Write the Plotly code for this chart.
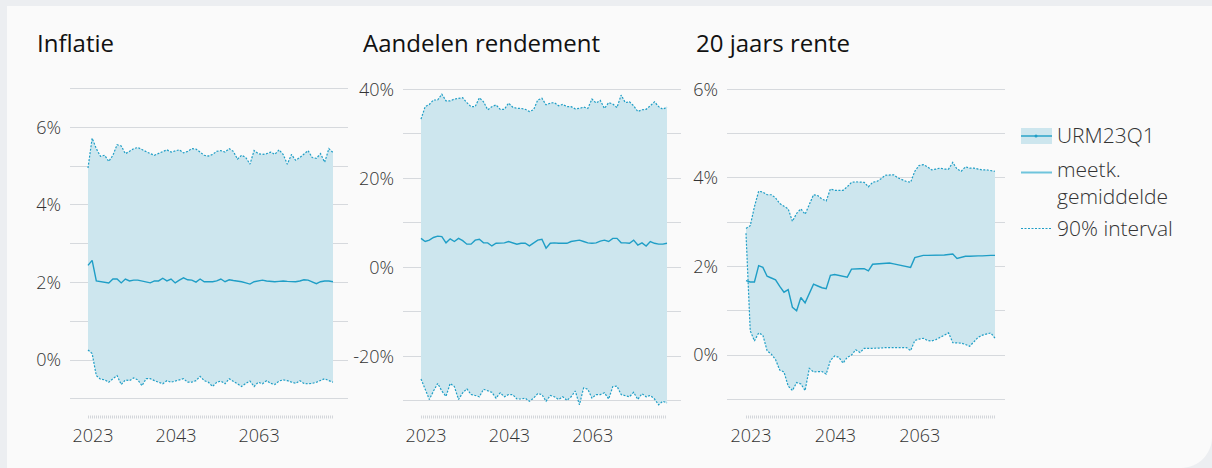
import plotly.graph_objects as go

# ---------------- data ----------------
years = list(range(2023, 2083))
x_tick_vals = [2023, 2043, 2063]
x_tick_text = ["2023", "2043", "2063"]

titles = ["Inflatie", "Aandelen rendement", "20 jaars rente"]

infl_upper = [4.95, 5.72, 5.45, 5.25, 5.28, 5.12, 5.28, 5.55, 5.52, 5.32,
              5.38, 5.45, 5.48, 5.42, 5.38, 5.32, 5.28, 5.32, 5.36, 5.42,
              5.36, 5.40, 5.42, 5.34, 5.38, 5.45, 5.44, 5.36, 5.28, 5.26,
              5.30, 5.38, 5.40, 5.36, 5.45, 5.38, 5.18, 5.28, 5.22, 5.05,
              5.40, 5.32, 5.30, 5.32, 5.36, 5.30, 5.42, 5.30, 5.05, 5.30,
              5.15, 5.22, 5.30, 5.40, 5.22, 5.20, 5.32, 5.10, 5.45, 5.35]
infl_mean = [2.44, 2.57, 2.04, 2.02, 2.01, 1.99, 2.09, 2.09, 1.99, 2.09,
             2.04, 2.06, 2.06, 2.04, 2.01, 1.99, 2.04, 2.04, 2.11, 2.04,
             2.09, 1.99, 2.06, 2.12, 2.07, 2.06, 2.01, 2.09, 2.02, 2.02,
             2.02, 2.04, 2.09, 2.02, 2.07, 2.05, 2.04, 2.02, 1.99, 1.96,
             2.02, 2.04, 2.06, 2.04, 2.03, 2.02, 2.03, 2.04, 2.03, 2.02,
             2.02, 2.04, 2.07, 2.06, 2.02, 1.97, 2.02, 2.04, 2.04, 2.02]
infl_lower = [0.26, 0.17, -0.40, -0.49, -0.51, -0.57, -0.48, -0.40, -0.63, -0.51,
              -0.53, -0.46, -0.51, -0.66, -0.48, -0.48, -0.53, -0.57, -0.61, -0.53,
              -0.57, -0.54, -0.51, -0.48, -0.57, -0.57, -0.53, -0.42, -0.53, -0.57,
              -0.68, -0.57, -0.54, -0.61, -0.48, -0.54, -0.61, -0.68, -0.60, -0.54,
              -0.68, -0.57, -0.61, -0.53, -0.60, -0.63, -0.54, -0.51, -0.53, -0.57,
              -0.60, -0.53, -0.60, -0.61, -0.60, -0.57, -0.53, -0.48, -0.53, -0.57]

aand_upper = [33.3, 36.1, 36.6, 37.6, 37.6, 38.9, 37.4, 37.4, 37.8, 38.0,
              38.1, 37.0, 36.1, 36.1, 38.1, 37.2, 35.4, 36.1, 36.5, 35.5,
              35.5, 36.9, 36.0, 35.7, 35.7, 35.5, 35.0, 35.4, 37.6, 38.0,
              36.5, 36.9, 37.0, 36.3, 36.6, 36.1, 36.1, 35.6, 35.7, 36.0,
              35.7, 37.8, 36.9, 37.5, 35.7, 37.0, 36.7, 35.9, 38.7, 37.0,
              37.2, 36.3, 35.0, 35.4, 35.5, 36.3, 37.2, 36.1, 35.5, 36.0]
aand_mean = [6.5, 5.8, 6.1, 6.7, 7.0, 6.9, 5.5, 6.4, 5.8, 6.5,
             6.0, 5.2, 5.2, 6.1, 6.3, 5.5, 5.5, 4.8, 5.4, 5.5,
             5.5, 5.8, 5.5, 5.2, 5.4, 5.4, 4.8, 5.4, 6.1, 6.3,
             4.3, 5.4, 5.5, 5.4, 5.4, 5.4, 5.8, 5.9, 6.1, 5.8,
             5.5, 5.4, 5.5, 5.9, 6.1, 5.8, 6.5, 6.5, 5.5, 5.5,
             5.4, 6.1, 5.0, 5.5, 4.8, 5.8, 5.4, 5.2, 5.2, 5.4]
aand_lower = [-25.1, -27.4, -29.7, -27.8, -26.1, -27.8, -29.0, -26.1, -26.8, -29.7,
              -28.2, -27.3, -28.6, -28.8, -29.1, -27.4, -27.8, -28.1, -29.4, -28.2,
              -29.1, -28.6, -28.6, -29.6, -29.6, -29.4, -30.1, -29.4, -28.4, -28.6,
              -30.1, -28.8, -29.1, -29.7, -29.1, -29.9, -29.1, -27.8, -30.9, -27.1,
              -27.4, -29.4, -28.6, -28.6, -28.2, -29.6, -26.8, -26.7, -28.6, -28.8,
              -29.1, -28.1, -29.7, -28.4, -29.1, -28.8, -29.6, -30.9, -30.1, -30.5]

rente_upper = [2.86, 2.92, 3.35, 3.70, 3.68, 3.62, 3.62, 3.55, 3.42, 3.35,
               3.30, 3.02, 3.20, 3.30, 3.18, 3.40, 3.62, 3.60, 3.52, 3.48,
               3.75, 3.72, 3.72, 3.72, 3.80, 3.90, 3.91, 3.91, 3.90, 3.80,
               3.90, 3.92, 3.98, 4.06, 4.06, 4.07, 4.00, 3.96, 3.92, 3.90,
               4.15, 4.28, 4.30, 4.25, 4.18, 4.20, 4.22, 4.20, 4.20, 4.35,
               4.20, 4.15, 4.25, 4.22, 4.22, 4.20, 4.18, 4.18, 4.16, 4.15]
rente_mean = [1.68, 1.65, 1.65, 2.02, 1.98, 1.78, 1.74, 1.70, 1.55, 1.42,
              1.48, 1.08, 1.00, 1.30, 1.18, 1.40, 1.60, 1.56, 1.52, 1.50,
              1.80, 1.82, 1.80, 1.78, 1.76, 1.94, 1.95, 1.95, 1.95, 1.90,
              2.05, 2.06, 2.07, 2.08, 2.08, 2.06, 2.04, 2.02, 2.00, 1.98,
              2.20, 2.23, 2.25, 2.25, 2.25, 2.25, 2.25, 2.26, 2.27, 2.28,
              2.18, 2.21, 2.23, 2.23, 2.24, 2.24, 2.24, 2.25, 2.25, 2.25]
rente_lower = [2.75, 0.55, 0.32, 0.50, 0.45, 0.10, 0.02, -0.10, -0.34, -0.38,
               -0.70, -0.80, -0.62, -0.65, -0.80, -0.30, -0.38, -0.37, -0.37, -0.43,
               -0.12, -0.02, -0.05, -0.18, -0.05, 0.00, 0.12, 0.06, 0.15, 0.15,
               0.15, 0.16, 0.16, 0.17, 0.17, 0.17, 0.17, 0.17, 0.17, 0.10,
               0.33, 0.36, 0.38, 0.33, 0.32, 0.35, 0.40, 0.45, 0.50, 0.28,
               0.28, 0.27, 0.24, 0.20, 0.30, 0.40, 0.45, 0.48, 0.50, 0.38]

y_grid_vals = [list(range(-1, 8)), list(range(-30, 50, 10)), list(range(-1, 7))]
y_label_vals = [[0, 2, 4, 6], [-20, 0, 20, 40], [0, 2, 4, 6]]

legend_labels = ["URM23Q1", "meetk.<br>gemiddelde", "90% interval"]

# ---------------- style / layout ----------------
W, H = 1212, 468
FONT = "Open Sans"
LINE = "#1f9ec6"
FILL = "#cde6ee"
GRID = "#d6d9dd"
TXT = "#333333"


def X(p):
    return p / W


def Y(p):
    return 1 - p / H


# pixel geometry of each panel: grid x span, data x span, top px of top grid value, px per unit
panels = [
    dict(gx=(70, 348), dx=(88, 333), top_px=88.5, ppu=38.8, top_val=7, tx=35),
    dict(gx=(403, 681), dx=(421, 667), top_px=89.3, ppu=4.45, top_val=40, tx=361),
    dict(gx=(727, 1005), dx=(746, 995), top_px=89.3, ppu=44.3, top_val=6, tx=694),
]
BOTTOM_PX = 420
series = [(infl_lower, infl_upper, infl_mean),
          (aand_lower, aand_upper, aand_mean),
          (rente_lower, rente_upper, rente_mean)]

fig = go.Figure()
layout = {}
shapes = []
annotations = []

for i, (p, (lo, up, mn)) in enumerate(zip(panels, series)):
    n = i + 1
    xa = "x" if n == 1 else f"x{n}"
    ya = "y" if n == 1 else f"y{n}"
    fig.add_trace(go.Scatter(x=years, y=lo, mode="lines", xaxis=xa, yaxis=ya,
                             line=dict(color=LINE, width=1.2, dash="2px,1.5px"),
                             showlegend=False, hoverinfo="skip"))
    fig.add_trace(go.Scatter(x=years, y=up, mode="lines", xaxis=xa, yaxis=ya,
                             fill="tonexty", fillcolor=FILL,
                             line=dict(color=LINE, width=1.2, dash="2px,1.5px"),
                             showlegend=False, hoverinfo="skip"))
    fig.add_trace(go.Scatter(x=years, y=mn, mode="lines", xaxis=xa, yaxis=ya,
                             line=dict(color=LINE, width=1.4),
                             showlegend=False))

    ppy = (p["dx"][1] - p["dx"][0]) / (years[-1] - years[0])
    xr = [years[0] - (p["dx"][0] - p["gx"][0]) / ppy,
          years[-1] + (p["gx"][1] - p["dx"][1]) / ppy]
    top_pad = 3
    yr = [p["top_val"] - (BOTTOM_PX - p["top_px"]) / p["ppu"],
          p["top_val"] + top_pad / p["ppu"]]

    key_x = "xaxis" if n == 1 else f"xaxis{n}"
    key_y = "yaxis" if n == 1 else f"yaxis{n}"
    layout[key_x] = dict(domain=[X(p["gx"][0]), X(p["gx"][1])], range=xr, anchor=ya,
                         tickvals=x_tick_vals, ticktext=x_tick_text, ticks="",
                         showgrid=False, zeroline=False, showline=False, automargin=False,
                         ticklabelshift=5, ticklabelstandoff=3,
                         tickfont=dict(family=FONT, size=18, color=TXT, weight=300),
                         fixedrange=True)
    ttext = [(f"{v}%" if v in y_label_vals[i] else "") for v in y_grid_vals[i]]
    layout[key_y] = dict(domain=[Y(BOTTOM_PX), Y(p["top_px"] - top_pad)], range=yr, anchor=xa,
                         tickvals=y_grid_vals[i], ticktext=ttext, ticks="",
                         showgrid=True, gridcolor=GRID, gridwidth=1, automargin=False,
                         zeroline=False, showline=False, ticklabelstandoff=8,
                         tickfont=dict(family=FONT, size=18, color=TXT, weight=300),
                         fixedrange=True)
    # dotted time axis under the plot
    yd = 3 / (BOTTOM_PX - p["top_px"] + top_pad)
    shapes.append(dict(type="line", xref=xa, yref=f"{ya} domain",
                       x0=years[0], x1=years[-1], y0=yd, y1=yd,
                       line=dict(color="#d3d6da", width=3, dash="1px,1px")))
    annotations.append(dict(text=titles[i], xref="paper", yref="paper",
                            x=X(p["tx"]), y=Y(42), xanchor="left", yanchor="middle",
                            showarrow=False,
                            font=dict(family=FONT, size=24, color="#111111", weight=400)))

# card background with rounded bottom-right corner
k = 0.5523 * 31
card_path = (f"M {X(7)},{Y(6)} L {X(1212)},{Y(6)} L {X(1212)},{Y(437)} "
             f"C {X(1212)},{Y(437 + k)} {X(1181 + k)},{Y(468)} {X(1181)},{Y(468)} "
             f"L {X(7)},{Y(468)} Z")
shapes.insert(0, dict(type="path", xref="paper", yref="paper", path=card_path,
                      fillcolor="#fafafa", line=dict(width=0), layer="below"))

# legend (drawn)
LX0, LX1 = 1021, 1052
shapes += [
    dict(type="rect", xref="paper", yref="paper", x0=X(LX0), x1=X(LX1), y0=Y(128), y1=Y(144),
         fillcolor=FILL, line=dict(width=0)),
    dict(type="line", xref="paper", yref="paper", x0=X(LX0), x1=X(LX1), y0=Y(136), y1=Y(136),
         line=dict(color=LINE, width=1.4)),
    dict(type="circle", xref="paper", yref="paper", x0=X(1034.5), x1=X(1037.5), y0=Y(134.5), y1=Y(137.5),
         fillcolor=LINE, line=dict(width=0)),
    dict(type="line", xref="paper", yref="paper", x0=X(LX0), x1=X(LX1), y0=Y(172.5), y1=Y(172.5),
         line=dict(color="#6fc4dc", width=2)),
    dict(type="line", xref="paper", yref="paper", x0=X(LX0), x1=X(LX1), y0=Y(228.5), y1=Y(228.5),
         line=dict(color=LINE, width=1.2, dash="2px,1.5px")),
]
for txt, yy in zip(legend_labels, [135, 183, 228]):
    annotations.append(dict(text=txt, xref="paper", yref="paper", x=X(1055), y=Y(yy),
                            xanchor="left", yanchor="middle", align="left", showarrow=False,
                            font=dict(family=FONT, size=21, color=TXT, weight=300)))

fig.update_layout(
    width=W, height=H, margin=dict(l=0, r=0, t=0, b=0, autoexpand=False),
    paper_bgcolor="#eceef1", plot_bgcolor="rgba(0,0,0,0)",
    showlegend=False, shapes=shapes, annotations=annotations,
    font=dict(family=FONT, color=TXT),
    **layout,
)

fig.write_html("out.html", config={"displayModeBar": False},
               post_script="document.body.style.margin='0px';document.body.style.overflow='hidden';")
